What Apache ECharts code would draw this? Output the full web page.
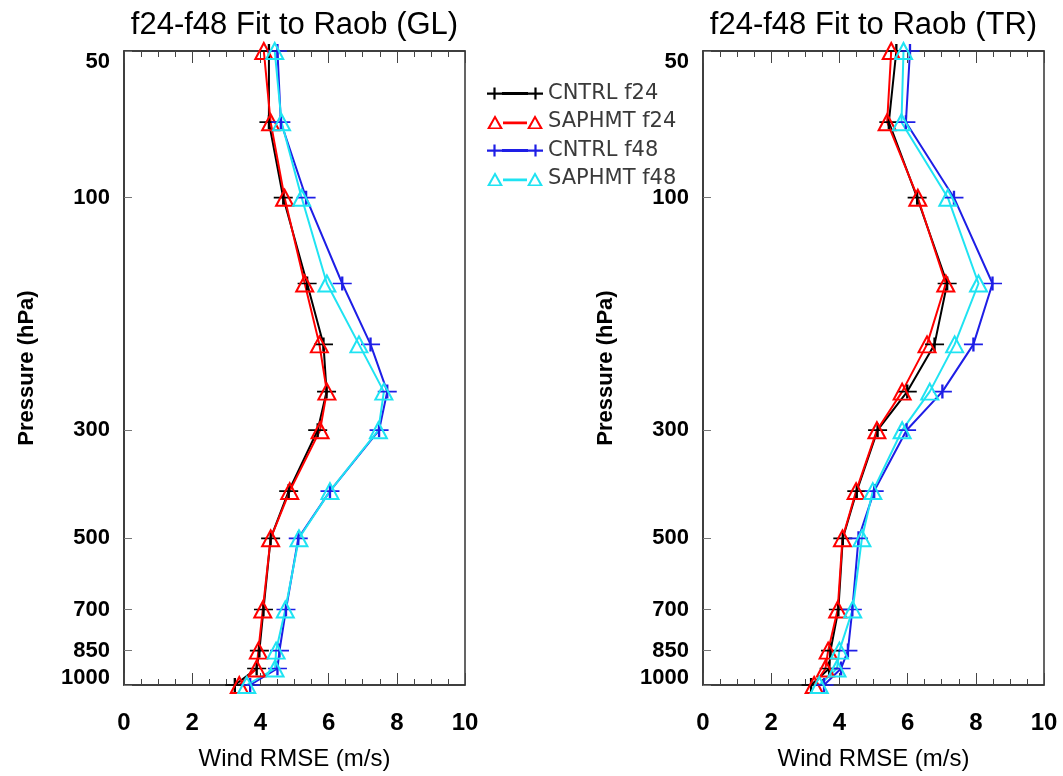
<!DOCTYPE html>
<html><head><meta charset="utf-8">
<script src="https://cdn.jsdelivr.net/npm/echarts@6/dist/echarts.min.js"></script>
<style>html,body{margin:0;padding:0;background:#fff}#c{width:1063px;height:776px}</style>
</head><body><div id="c"></div>
<script>
// ---- data ----
const levels = [50, 70, 100, 150, 200, 250, 300, 400, 500, 700, 850, 925, 1000];
const pressureTicks = [50, 100, 300, 500, 700, 850, 1000];
const seriesNames = ['CNTRL f24', 'SAPHMT f24', 'CNTRL f48', 'SAPHMT f48'];
const panelTitles = ['f24-f48 Fit to Raob (GL)', 'f24-f48 Fit to Raob (TR)'];

const glCntrlF24  = [4.25, 4.25, 4.67, 5.37, 5.85, 5.94, 5.68, 4.83, 4.30, 4.09, 3.97, 3.89, 3.25];
const glSaphmtF24 = [4.10, 4.30, 4.71, 5.30, 5.73, 5.95, 5.75, 4.86, 4.30, 4.07, 3.94, 3.89, 3.38];
const glCntrlF48  = [4.50, 4.60, 5.34, 6.40, 7.23, 7.72, 7.48, 6.04, 5.11, 4.75, 4.56, 4.50, 3.70];
const glSaphmtF48 = [4.42, 4.62, 5.21, 5.95, 6.89, 7.62, 7.46, 6.04, 5.13, 4.73, 4.46, 4.43, 3.60];

const trCntrlF24  = [5.67, 5.45, 6.28, 7.16, 6.79, 5.99, 5.12, 4.51, 4.10, 3.97, 3.74, 3.70, 3.17];
const trSaphmtF24 = [5.52, 5.40, 6.30, 7.12, 6.57, 5.84, 5.10, 4.49, 4.09, 3.95, 3.67, 3.59, 3.26];
const trCntrlF48  = [6.07, 5.95, 7.36, 8.49, 7.93, 7.02, 5.97, 5.02, 4.56, 4.38, 4.25, 4.05, 3.55];
const trSaphmtF48 = [5.88, 5.82, 7.18, 8.08, 7.38, 6.65, 5.84, 4.98, 4.66, 4.39, 4.00, 3.93, 3.41];

// ---- styling ----
const FONT = 'Liberation Sans, Arial, Helvetica, sans-serif';
const COLORS = ['#000000', '#ff0000', '#1e1ee6', '#1fe3f2'];
const KINDS = ['plus', 'tri', 'plus', 'tri'];
const PLUS_SYMBOL = 'path://M0,7H19M9.5,0V14';
const ICON_PLUS = 'path://M0,7h15v2.2H0Z M6.4,2h2.2v12H6.4Z M15,6.5h26v3H15Z M41,7h15v2.2H41Z M47.4,2h2.2v12h-2.2Z';
const ICON_TRI = 'path://M0,15L8,1L16,15Z M3.3,13.4L12.7,13.4L8,5Z M16,7.5h24v2.8H16Z M40,15L48,1L56,15Z M43.3,13.4L52.7,13.4L48,5Z';

const grids = [
  {left: 124, top: 51, width: 341, height: 635},
  {left: 703, top: 51, width: 341, height: 635}
];

function xAxes(g) {
  const common = {
    type: 'value', gridIndex: g, min: 0, max: 10, interval: 2,
    axisLine: {show: true, onZero: false, lineStyle: {color: '#333', width: 1.5}},
    axisTick: {show: true, inside: true, length: 12, lineStyle: {color: '#444', width: 1}},
    minorTick: {show: true, splitNumber: 4, length: 6, lineStyle: {color: '#444', width: 1}},
    splitLine: {show: false}
  };
  return [
    Object.assign({}, common, {
      position: 'bottom',
      name: 'Wind RMSE (m/s)', nameLocation: 'middle', nameGap: 62,
      nameTextStyle: {fontSize: 24, color: '#000', fontFamily: FONT},
      axisLabel: {fontSize: 24, fontWeight: 'bold', color: '#000', margin: 26, fontFamily: FONT}
    }),
    Object.assign({}, common, {
      position: 'top',
      name: panelTitles[g], nameLocation: 'middle', nameGap: 10,
      nameTextStyle: {fontSize: 31, color: '#000', fontFamily: FONT},
      axisLabel: {show: false}
    })
  ];
}

function yAxis(g) {
  return {
    type: 'log', logBase: 10, gridIndex: g, min: 50, max: 1000, inverse: true,
    name: 'Pressure (hPa)', nameLocation: 'middle', nameGap: 86, nameRotate: 90,
    nameTextStyle: {fontSize: 22, fontWeight: 'bold', color: '#000', fontFamily: FONT},
    axisLine: {show: true, onZero: false, lineStyle: {color: '#333', width: 1.5}},
    axisTick: {show: true, inside: true, length: 8, customValues: pressureTicks, lineStyle: {color: '#777', width: 1}},
    minorTick: {show: false},
    splitLine: {show: false},
    axisLabel: {
      customValues: pressureTicks, margin: 14, color: '#000',
      fontSize: 22, fontWeight: 'bold', fontFamily: FONT,
      formatter: function (v) {
        const r = Math.round(v);
        if (r === 50) return '{a|' + r + '}';
        if (r === 1000) return '{b|' + r + '}';
        return '{n|' + r + '}';
      },
      rich: {
        a: {fontSize: 22, fontWeight: 'bold', fontFamily: FONT, color: '#000', padding: [22, 0, 0, 0]},
        b: {fontSize: 22, fontWeight: 'bold', fontFamily: FONT, color: '#000', padding: [0, 0, 14, 0]},
        n: {fontSize: 22, fontWeight: 'bold', fontFamily: FONT, color: '#000'}
      }
    }
  };
}

function mk(k, vals, g) {
  const color = COLORS[k];
  const plus = KINDS[k] === 'plus';
  return {
    type: 'line', name: seriesNames[k],
    xAxisIndex: g * 2, yAxisIndex: g,
    data: levels.map((p, i) => [vals[i], p]),
    symbol: plus ? PLUS_SYMBOL : 'triangle',
    symbolSize: plus ? [19, 14] : [17, 16],
    showAllSymbol: true,
    lineStyle: {color: color, width: 2},
    itemStyle: plus ? {color: color, borderColor: color, borderWidth: 2}
                    : {color: 'rgba(0,0,0,0)', borderColor: color, borderWidth: 2},
    emphasis: {disabled: true},
    clip: true
  };
}

const glSets = [glCntrlF24, glSaphmtF24, glCntrlF48, glSaphmtF48];
const trSets = [trCntrlF24, trSaphmtF24, trCntrlF48, trSaphmtF48];

const series = [];
glSets.forEach((v, k) => series.push(mk(k, v, 0)));
trSets.forEach((v, k) => series.push(mk(k, v, 1)));

const option = {
  animation: false,
  backgroundColor: '#fff',
  grid: grids.map(g => Object.assign({show: true, borderColor: '#333', borderWidth: 1.5, backgroundColor: 'transparent'}, g)),
  xAxis: xAxes(0).concat(xAxes(1)),
  yAxis: [yAxis(0), yAxis(1)],
  legend: {
    orient: 'vertical', left: 482, top: 78,
    itemWidth: 56, itemHeight: 16, itemGap: 7.5,
    selectedMode: false,
    textStyle: {fontFamily: 'DejaVu Sans, sans-serif', fontSize: 21, color: '#3a3a3a'},
    data: seriesNames.map((n, k) => ({
      name: n,
      icon: KINDS[k] === 'plus' ? ICON_PLUS : ICON_TRI,
      itemStyle: {color: COLORS[k], borderWidth: 0}
    }))
  },
  series: series
};

const chart = echarts.init(document.getElementById('c'), null, {renderer: 'canvas'});
chart.setOption(option);
</script>
</body></html>
